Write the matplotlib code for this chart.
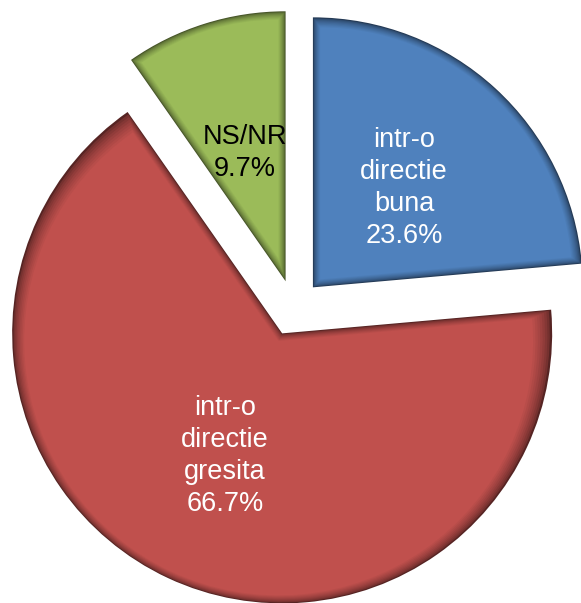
import numpy as np
import matplotlib.pyplot as plt
import matplotlib.patches as patches
from matplotlib.colors import to_rgb

# Date
categorii = ['intr-o\ndirectie\nbuna', 'intr-o\ndirectie\ngresita', 'NS/NR']
procente = [23.6, 66.7, 9.7]
culori = ['#4F81BD', '#C0504D', '#9BBB59']
culori_text = ['white', 'white', 'black']

plt.rcParams['font.family'] = ['Liberation Sans', 'DejaVu Sans']

fig = plt.figure(figsize=(5.81, 6.03), dpi=100)
ax = fig.add_axes([0, 0, 1, 1])

etichete = [f'{c}\n{p:.1f}%' for c, p in zip(categorii, procente)]

wedges, texts = ax.pie(procente, labels=etichete, colors=culori,
                       startangle=90, counterclock=False,
                       explode=[28] * len(procente),
                       radius=270, center=(294, 295),
                       labeldistance=0.5,
                       wedgeprops=dict(linewidth=0),
                       textprops=dict(fontsize=19.5, ha='center', va='center',
                                      multialignment='center', linespacing=1.3))

# efect de bevel: margine intunecata care se estompeaza spre interior
pasi = 8
for w, c in zip(wedges, culori):
    baza = np.array(to_rgb(c))
    w.set_facecolor(baza * 0.45)
    cx, cy = w.center
    t1, t2 = w.theta1, w.theta2
    jum = np.deg2rad((t2 - t1) / 2)
    mij = np.deg2rad((t1 + t2) / 2)
    for i in range(1, pasi + 1):
        t = i * 0.9
        s = t / np.sin(jum)
        f = 0.45 + 0.55 * (i / pasi) ** 0.6
        col = np.clip(baza * f, 0, 1)
        p = patches.Wedge((cx + s * np.cos(mij), cy + s * np.sin(mij)),
                          w.r - t - s, t1, t2, facecolor=col,
                          edgecolor='none', zorder=w.get_zorder() + 0.01 * i)
        ax.add_patch(p)

for t, c in zip(texts, culori_text):
    t.set_color(c)
    t.set_zorder(5)

ax.set_xlim(0, 581)
ax.set_ylim(0, 603)
ax.axis('off')

plt.savefig('out.png', dpi=100)
